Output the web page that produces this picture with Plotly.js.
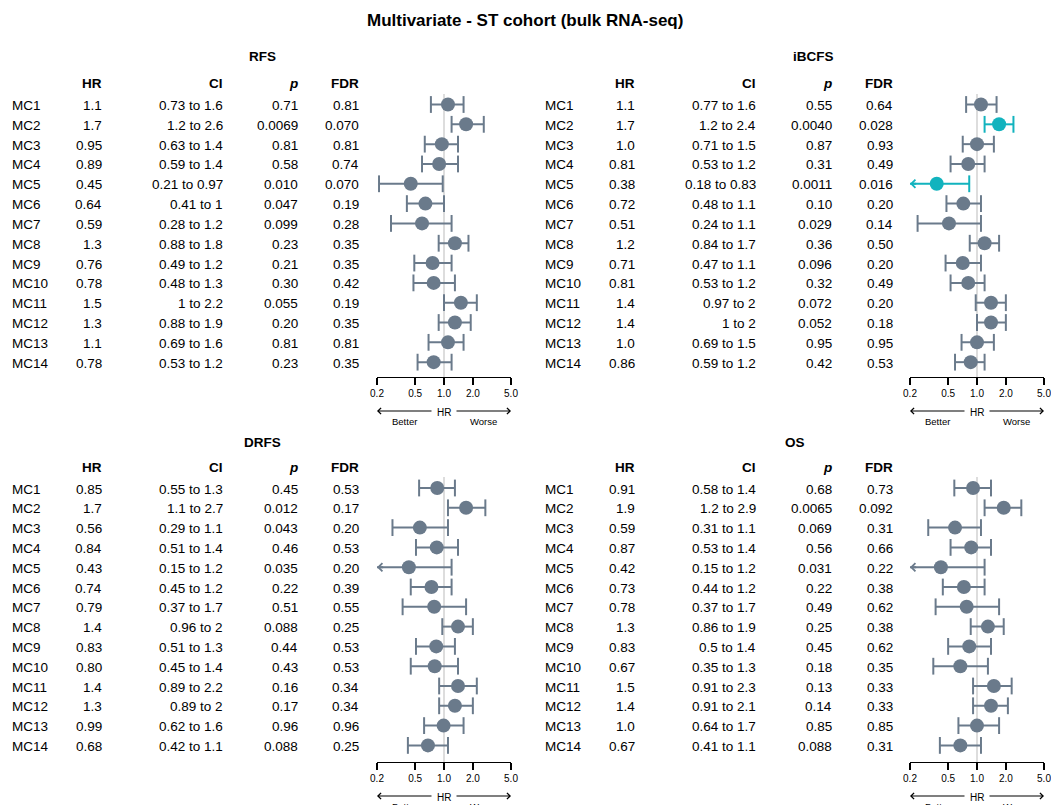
<!DOCTYPE html>
<html><head><meta charset="utf-8">
<script src="https://cdn.plot.ly/plotly-3.0.1.min.js"></script>
<style>html,body{margin:0;padding:0;background:#fff}#chart{width:1051px;height:805px}</style>
</head><body><div id="chart"></div>
<script>
// ---------------- DATA ----------------
const rowLabels = ['MC1','MC2','MC3','MC4','MC5','MC6','MC7','MC8','MC9','MC10','MC11','MC12','MC13','MC14'];
const tickValues = [0.2, 0.5, 1, 2, 5];
const tickLabels = ['0.2','0.5','1.0','2.0','5.0'];

const rfsHR  = ['1.1','1.7','0.95','0.89','0.45','0.64','0.59','1.3','0.76','0.78','1.5','1.3','1.1','0.78'];
const rfsCI  = ['0.73 to 1.6','1.2 to 2.6','0.63 to 1.4','0.59 to 1.4','0.21 to 0.97','0.41 to 1','0.28 to 1.2','0.88 to 1.8','0.49 to 1.2','0.48 to 1.3','1 to 2.2','0.88 to 1.9','0.69 to 1.6','0.53 to 1.2'];
const rfsP   = ['0.71','0.0069','0.81','0.58','0.010','0.047','0.099','0.23','0.21','0.30','0.055','0.20','0.81','0.23'];
const rfsFDR = ['0.81','0.070','0.81','0.74','0.070','0.19','0.28','0.35','0.35','0.42','0.19','0.35','0.81','0.35'];

const ibcfsHR  = ['1.1','1.7','1.0','0.81','0.38','0.72','0.51','1.2','0.71','0.81','1.4','1.4','1.0','0.86'];
const ibcfsCI  = ['0.77 to 1.6','1.2 to 2.4','0.71 to 1.5','0.53 to 1.2','0.18 to 0.83','0.48 to 1.1','0.24 to 1.1','0.84 to 1.7','0.47 to 1.1','0.53 to 1.2','0.97 to 2','1 to 2','0.69 to 1.5','0.59 to 1.2'];
const ibcfsP   = ['0.55','0.0040','0.87','0.31','0.0011','0.10','0.029','0.36','0.096','0.32','0.072','0.052','0.95','0.42'];
const ibcfsFDR = ['0.64','0.028','0.93','0.49','0.016','0.20','0.14','0.50','0.20','0.49','0.20','0.18','0.95','0.53'];

const drfsHR  = ['0.85','1.7','0.56','0.84','0.43','0.74','0.79','1.4','0.83','0.80','1.4','1.3','0.99','0.68'];
const drfsCI  = ['0.55 to 1.3','1.1 to 2.7','0.29 to 1.1','0.51 to 1.4','0.15 to 1.2','0.45 to 1.2','0.37 to 1.7','0.96 to 2','0.51 to 1.3','0.45 to 1.4','0.89 to 2.2','0.89 to 2','0.62 to 1.6','0.42 to 1.1'];
const drfsP   = ['0.45','0.012','0.043','0.46','0.035','0.22','0.51','0.088','0.44','0.43','0.16','0.17','0.96','0.088'];
const drfsFDR = ['0.53','0.17','0.20','0.53','0.20','0.39','0.55','0.25','0.53','0.53','0.34','0.34','0.96','0.25'];

const osHR  = ['0.91','1.9','0.59','0.87','0.42','0.73','0.78','1.3','0.83','0.67','1.5','1.4','1.0','0.67'];
const osCI  = ['0.58 to 1.4','1.2 to 2.9','0.31 to 1.1','0.53 to 1.4','0.15 to 1.2','0.44 to 1.2','0.37 to 1.7','0.86 to 1.9','0.5 to 1.4','0.35 to 1.3','0.91 to 2.3','0.91 to 2.1','0.64 to 1.7','0.41 to 1.1'];
const osP   = ['0.68','0.0065','0.069','0.56','0.031','0.22','0.49','0.25','0.45','0.18','0.13','0.14','0.85','0.088'];
const osFDR = ['0.73','0.092','0.31','0.66','0.22','0.38','0.62','0.38','0.62','0.35','0.33','0.33','0.85','0.31'];

// ---------------- LAYOUT HELPERS ----------------
const W = 1051, H = 805;
const px = x => x / W, py = y => 1 - y / H;
const FONT = 'Liberation Sans, Arial, Helvetica, sans-serif';
const GREY = '#6a7a8b', TEAL = '#12b3be', REF = '#d5d5d5';
const FS = 13.5;
const LIM_LO = tickValues[0], LIM_HI = tickValues[tickValues.length - 1];

const panels = [
  {title:'RFS',   hr:rfsHR,   ci:rfsCI,   p:rfsP,   fdr:rfsFDR,   id:'',  tx:262, ty:57,  hy:84,  r0:104.5, dr:19.82, cols:[10,104,225,300,361], xd:[377,511],  yd:[94,377]},
  {title:'iBCFS', hr:ibcfsHR, ci:ibcfsCI, p:ibcfsP, fdr:ibcfsFDR, id:'2', tx:813, ty:57,  hy:84,  r0:104.5, dr:19.82, cols:[543,637,758,834,895], xd:[910,1044], yd:[94,377]},
  {title:'DRFS',  hr:drfsHR,  ci:drfsCI,  p:drfsP,  fdr:drfsFDR,  id:'3', tx:262, ty:442, hy:467, r0:488,   dr:19.8,  cols:[10,104,225,300,361], xd:[377,511],  yd:[477,762]},
  {title:'OS',    hr:osHR,    ci:osCI,    p:osP,    fdr:osFDR,    id:'4', tx:795, ty:442, hy:467, r0:488,   dr:19.8,  cols:[543,637,758,834,895], xd:[910,1044], yd:[477,762]}
];

const traces = [];
const annotations = [];
const layout = {
  width: W, height: H,
  margin: {l:0, r:0, t:0, b:0},
  paper_bgcolor: '#fff', plot_bgcolor: '#fff',
  showlegend: false,
  font: {family: FONT, color: '#000', size: FS},
  annotations: annotations
};

annotations.push({xref:'paper', yref:'paper', x:px(525), y:py(20.5), xanchor:'center', yanchor:'middle',
  text:'<b>Multivariate - ST cohort (bulk RNA-seq)</b>', showarrow:false, font:{size:17, family:FONT, color:'#000'}});

function txt(x, y, t, anchor, extra) {
  annotations.push(Object.assign({xref:'paper', yref:'paper', x:px(x), y:py(y), xanchor:anchor, yanchor:'middle',
    text:t, showarrow:false, font:{size:FS, family:FONT, color:'#000'}}, extra || {}));
}

panels.forEach(pn => {
  const xa = 'x' + pn.id, ya = 'y' + pn.id;
  const yTop = (pn.yd[0] - pn.r0) / pn.dr, yBot = (pn.yd[1] - pn.r0) / pn.dr;
  layout['xaxis' + pn.id] = {
    type:'log', domain:[px(pn.xd[0]), px(pn.xd[1])], range:[Math.log10(LIM_LO), Math.log10(LIM_HI)],
    anchor: ya, tickvals: tickValues, ticktext: tickLabels, ticks:'outside', ticklen:7, tickwidth:1.3,
    tickcolor:'#000', showline:true, linecolor:'#000', linewidth:1.3, showgrid:false, zeroline:false,
    tickfont:{size:10, family:FONT, color:'#000'}, ticklabeloverflow:'allow', fixedrange:true
  };
  layout['yaxis' + pn.id] = {
    domain:[py(pn.yd[1]), py(pn.yd[0])], range:[yBot, yTop], anchor: xa, visible:false, fixedrange:true
  };

  // reference line at HR = 1
  traces.push({type:'scatter', mode:'lines', x:[1,1], y:[yTop, yBot], xaxis:xa, yaxis:ya,
    line:{color:REF, width:1.6}, hoverinfo:'skip', cliponaxis:false});

  // group rows by colour (significant FDR < 0.05 in teal)
  const groups = {};
  rowLabels.forEach((lab, i) => {
    const c = parseFloat(pn.fdr[i]) < 0.05 ? TEAL : GREY;
    (groups[c] = groups[c] || []).push(i);
  });
  Object.keys(groups).forEach(c => {
    const lx = [], ly = [], cx = [], cy = [], mx = [], my = [];
    groups[c].forEach(i => {
      const parts = pn.ci[i].split(' to ');
      const lo = parseFloat(parts[0]), hi = parseFloat(parts[1]);
      const hr = parseFloat(pn.hr[i]);
      const loC = Math.max(lo, LIM_LO);
      lx.push(loC, hi, null); ly.push(i, i, null);
      if (lo >= LIM_LO) { cx.push(lo); cy.push(i); }
      else {
        annotations.push({xref:xa, yref:ya, axref:xa, ayref:ya, x:Math.log10(LIM_LO), y:i,
          ax:Math.log10(LIM_LO) + 0.08, ay:i, text:'', showarrow:true, arrowhead:4, arrowsize:0.8,
          arrowwidth:2, arrowcolor:c, standoff:0});
      }
      cx.push(hi); cy.push(i);
      mx.push(hr); my.push(i);
    });
    traces.push({type:'scatter', mode:'lines', x:lx, y:ly, xaxis:xa, yaxis:ya, line:{color:c, width:2},
      hoverinfo:'skip', cliponaxis:false});
    traces.push({type:'scatter', mode:'markers', x:cx, y:cy, xaxis:xa, yaxis:ya,
      marker:{symbol:'line-ns', size:12, color:c, line:{color:c, width:2}}, hoverinfo:'skip', cliponaxis:false});
    traces.push({type:'scatter', mode:'markers', x:mx, y:my, xaxis:xa, yaxis:ya,
      marker:{symbol:'circle', size:14, color:c, line:{width:0}}, hoverinfo:'skip', cliponaxis:false});
  });

  // panel title and headers
  txt(pn.tx, pn.ty, '<b>' + pn.title + '</b>', 'center');
  txt(pn.cols[1], pn.hy, '<b>HR</b>', 'right');
  txt(pn.cols[2], pn.hy, '<b>CI</b>', 'right');
  txt(pn.cols[3], pn.hy, '<b><i>p</i></b>', 'right');
  txt(pn.cols[4], pn.hy, '<b>FDR</b>', 'right');

  // table rows
  rowLabels.forEach((lab, i) => {
    const y = pn.r0 + i * pn.dr + 1;
    txt(pn.cols[0], y, lab, 'left');
    txt(pn.cols[1], y, pn.hr[i], 'right');
    txt(pn.cols[2], y, pn.ci[i], 'right');
    txt(pn.cols[3], y, pn.p[i], 'right');
    txt(pn.cols[4], y, pn.fdr[i], 'right');
  });

  // Better <- HR -> Worse
  const axY = pn.yd[1];
  const cx = (pn.xd[0] + pn.xd[1]) / 2;
  const arY = axY + 34;
  annotations.push({xref:'paper', yref:'paper', x:px(pn.xd[0]), y:py(arY), ax:(cx - 11) - pn.xd[0], ay:0,
    text:'', showarrow:true, arrowhead:4, arrowsize:1, arrowwidth:1.2, arrowcolor:'#000', standoff:0});
  annotations.push({xref:'paper', yref:'paper', x:px(pn.xd[1]), y:py(arY), ax:(cx + 11) - pn.xd[1], ay:0,
    text:'', showarrow:true, arrowhead:4, arrowsize:1, arrowwidth:1.2, arrowcolor:'#000', standoff:0});
  txt(cx, arY + 1, 'HR', 'center', {font:{size:10, family:FONT, color:'#000'}});
  txt(pn.xd[0] + 27, axY + 44, 'Better', 'center', {font:{size:9.5, family:FONT, color:'#000'}});
  txt(pn.xd[1] - 28, axY + 44, 'Worse', 'center', {font:{size:9.5, family:FONT, color:'#000'}});
});

Plotly.newPlot('chart', traces, layout, {displayModeBar:false, staticPlot:true});
</script>
</body></html>
